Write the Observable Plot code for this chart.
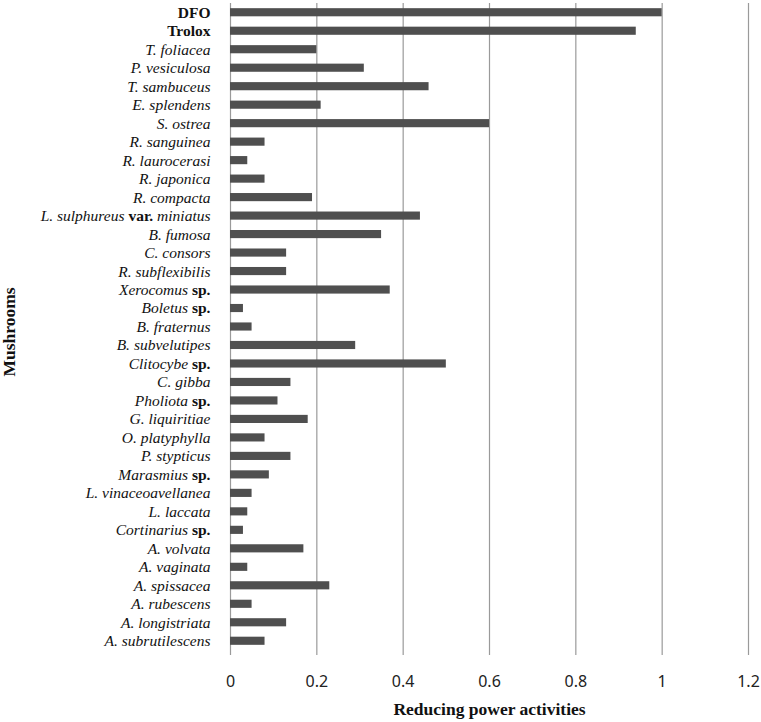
<!DOCTYPE html>
<html>
<head>
<meta charset="utf-8">
<script src="https://cdn.jsdelivr.net/npm/d3@7"></script>
<script src="https://cdn.jsdelivr.net/npm/@observablehq/plot@0.6"></script>
<style>
  body { margin: 0; background: #fff; }
  .ylab, .ylab tspan { font-family: "Liberation Serif", "Times New Roman", serif !important; }
  .xlab { font-family: "Noto Sans", sans-serif !important; }
</style>
</head>
<body>
<div id="chart"></div>
<script>
const names = [
  "DFO", "Trolox", "T. foliacea", "P. vesiculosa", "T. sambuceus", "E. splendens",
  "S. ostrea", "R. sanguinea", "R. laurocerasi", "R. japonica", "R. compacta",
  "L. sulphureus var. miniatus", "B. fumosa", "C. consors", "R. subflexibilis",
  "Xerocomus sp.", "Boletus sp.", "B. fraternus", "B. subvelutipes", "Clitocybe sp.",
  "C. gibba", "Pholiota sp.", "G. liquiritiae", "O. platyphylla", "P. stypticus",
  "Marasmius sp.", "L. vinaceoavellanea", "L. laccata", "Cortinarius sp.",
  "A. volvata", "A. vaginata", "A. spissacea", "A. rubescens", "A. longistriata",
  "A. subrutilescens"
];
const values = [
  1.0, 0.94, 0.2, 0.31, 0.46, 0.21,
  0.6, 0.08, 0.04, 0.08, 0.19,
  0.44, 0.35, 0.13, 0.13,
  0.37, 0.03, 0.05, 0.29, 0.5,
  0.14, 0.11, 0.18, 0.08, 0.14,
  0.09, 0.05, 0.04, 0.03,
  0.17, 0.04, 0.23, 0.05, 0.13,
  0.08
];
const xTicks = [0, 0.2, 0.4, 0.6, 0.8, 1.0, 1.2];
const xTitle = "Reducing power activities";
const yTitle = "Mushrooms";
const standards = ["DFO", "Trolox"];
const plainWords = ["sp.", "var."];

const data = names.map((n, i) => ({name: n, value: values[i]}));

const serif = "Liberation Serif, Times New Roman, serif";

const chart = Plot.plot({
  width: 761,
  height: 722,
  marginLeft: 230,
  marginRight: 13,
  marginTop: 3,
  marginBottom: 72,
  style: {fontFamily: serif},
  x: {domain: [0, 1.2], ticks: xTicks},
  y: {domain: names, paddingInner: 0.56, paddingOuter: 0.28, align: 0.5, round: false},
  marks: [
    Plot.gridX(xTicks, {stroke: "#9a9a9a", strokeOpacity: 1, strokeWidth: 1.2}),
    Plot.axisX({ticks: xTicks, tickSize: 5, tickPadding: 20, stroke: "#9a9a9a", strokeWidth: 1.2,
      tickFormat: d => String(d), fontSize: 16, fill: "#222", label: null}),
    Plot.axisY({tickSize: 0, tickPadding: 20, fontSize: 15.5, fill: "#111", label: null}),
    Plot.barX(data, {y: "name", x: "value", fill: "#4f4f4f"}),
    Plot.text([xTitle], {frameAnchor: "bottom", dy: 59, lineAnchor: "middle", textAnchor: "middle", text: d => d, fontSize: 17.5, fontWeight: "bold", fill: "#111"}),
    Plot.text([yTitle], {frameAnchor: "left", dx: -221, dy: 5, rotate: -90, textAnchor: "middle", lineAnchor: "middle", text: d => d, fontSize: 17.5, fontWeight: "bold", fill: "#111"})
  ]
});

// x tick labels use a sans font
chart.querySelectorAll('g[aria-label="x-axis tick label"] text').forEach(t => {
  t.classList.add("xlab");
});

// Style y tick labels: italic species names, upright "sp." / "var.", bold standards
chart.querySelectorAll('g[aria-label="y-axis tick label"] text').forEach(t => {
  const s = t.textContent;
  t.classList.add("ylab");
  while (t.firstChild) t.removeChild(t.firstChild);
  if (standards.includes(s)) {
    const ts = document.createElementNS("http://www.w3.org/2000/svg", "tspan");
    ts.setAttribute("font-weight", "bold");
    ts.textContent = s;
    t.appendChild(ts);
    return;
  }
  const words = s.split(" ");
  words.forEach((w, i) => {
    const ts = document.createElementNS("http://www.w3.org/2000/svg", "tspan");
    if (plainWords.includes(w)) {
      ts.setAttribute("font-weight", "bold");
    } else {
      ts.setAttribute("font-style", "italic");
    }
    ts.textContent = (i > 0 ? " " : "") + w;
    t.appendChild(ts);
  });
});

document.getElementById("chart").appendChild(chart);
</script>
</body>
</html>
